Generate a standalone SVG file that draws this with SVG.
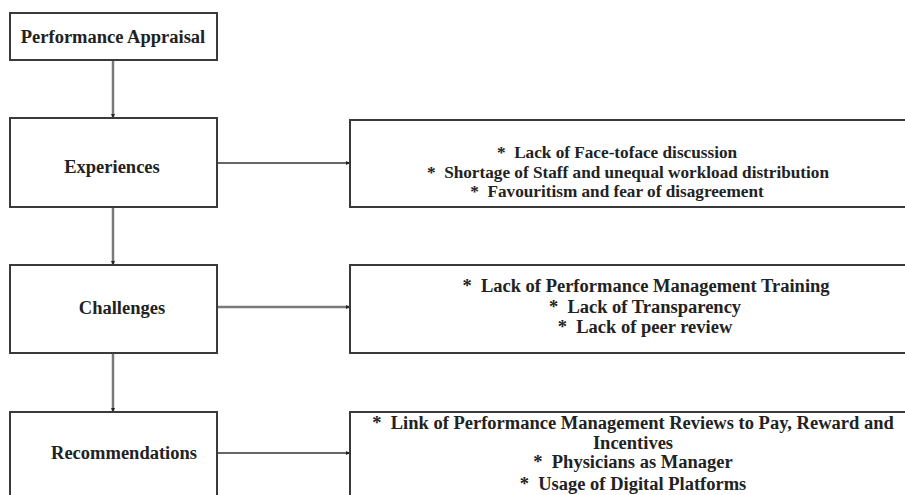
<svg xmlns="http://www.w3.org/2000/svg" width="905" height="495" viewBox="0 0 905 495">
<defs>
<style>
.box{fill:#fff;stroke:#3a3a3a;stroke-width:2}
.t{font-family:"Liberation Serif","Times New Roman",serif;font-weight:bold;font-size:18.5px;fill:#222;text-anchor:middle;white-space:pre}
.s{font-size:17.2px}
.c{stroke:#7a7a7a;stroke-width:2.5;fill:none;marker-end:url(#ah)}
.h{stroke:#333;stroke-width:1.5;fill:none;marker-end:url(#ah)}
</style>
<marker id="ah" viewBox="0 0 10 10" refX="10" refY="5" markerWidth="4" markerHeight="4" orient="auto" markerUnits="userSpaceOnUse">
<path d="M0,0 L10,5 L0,10 z" fill="#222"/>
</marker>
</defs>
<rect width="905" height="495" fill="#fff"/>
<g id="connectors">
<line class="c" x1="113" y1="60" x2="113" y2="118"/>
<line class="h" x1="217" y1="163" x2="350" y2="163"/>
<line class="c" x1="113" y1="207" x2="113" y2="265"/>
<line class="c" x1="217" y1="307" x2="350" y2="307"/>
<line class="c" x1="113" y1="353" x2="113" y2="412"/>
<line class="h" x1="217" y1="453" x2="350" y2="453"/>
</g>
<g id="node-appraisal">
<rect class="box" x="10" y="13" width="207" height="47"/>
<text class="t" x="113" y="43">Performance Appraisal</text>
</g>
<g id="node-experiences">
<rect class="box" x="10" y="118" width="207" height="89"/>
<text class="t" x="112" y="173">Experiences</text>
</g>
<g id="node-experiences-detail">
<rect class="box" x="350" y="120" width="565" height="87"/>
<text class="t s" x="617" y="158">*  Lack of Face-toface discussion</text>
<text class="t s" x="628" y="178">*  Shortage of Staff and unequal workload distribution</text>
<text class="t s" x="617" y="197">*  Favouritism and fear of disagreement</text>
</g>
<g id="node-challenges">
<rect class="box" x="10" y="265" width="207" height="88"/>
<text class="t" x="122" y="314">Challenges</text>
</g>
<g id="node-challenges-detail">
<rect class="box" x="350" y="265" width="565" height="88"/>
<text class="t" x="646" y="292">*  Lack of Performance Management Training</text>
<text class="t" x="645" y="313">*  Lack of Transparency</text>
<text class="t" x="645" y="333">*  Lack of peer review</text>
</g>
<g id="node-recommendations">
<rect class="box" x="10" y="412" width="207" height="95"/>
<text class="t" x="124" y="459">Recommendations</text>
</g>
<g id="node-recommendations-detail">
<rect class="box" x="350" y="412" width="565" height="95"/>
<text class="t" x="633" y="429">*  Link of Performance Management Reviews to Pay, Reward and</text>
<text class="t" x="633" y="449">Incentives</text>
<text class="t" x="633" y="468">*  Physicians as Manager</text>
<text class="t" x="633" y="490">*  Usage of Digital Platforms</text>
</g>
</svg>
